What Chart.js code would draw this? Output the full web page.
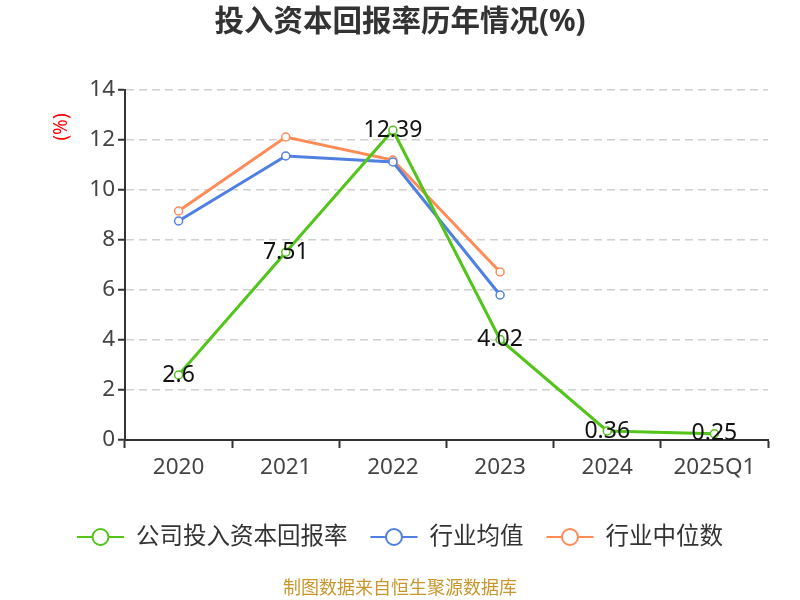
<!DOCTYPE html>
<html>
<head>
<meta charset="utf-8">
<script src="https://cdn.jsdelivr.net/npm/chart.js@4/dist/chart.umd.min.js"></script>
<style>
  html, body { margin: 0; padding: 0; background: #fff; }
  #wrap { width: 800px; height: 600px; }
</style>
</head>
<body>
<div id="wrap"><canvas id="chartCanvas" width="800" height="600"></canvas></div>
<script>
const categories = ["2020", "2021", "2022", "2023", "2024", "2025Q1"];
const companyRoic = [2.6, 7.51, 12.39, 4.02, 0.36, 0.25];
const industryMean = [8.76, 11.36, 11.12, 5.8, null, null];
const industryMedian = [9.16, 12.12, 11.2, 6.72, null, null];
const yTicks = [0, 2, 4, 6, 8, 10, 12, 14];

const FONT = "'Noto Sans', 'Noto Sans CJK SC', sans-serif";
const GREEN = "#52c41a";
const BLUE = "#4f80e1";
const ORANGE = "#ff8b57";

// title, unit, point labels, legend and footer
const decorPlugin = {
    id: "decor",
    afterDatasetsDraw(chart) {
        const ctx = chart.ctx;
        ctx.save();

        // value labels on the company line
        const meta = chart.getDatasetMeta(0);
        ctx.font = "23px " + FONT;
        ctx.fillStyle = "#111";
        ctx.textAlign = "center";
        ctx.textBaseline = "middle";
        meta.data.forEach((pt, i) => {
            ctx.fillText(String(companyRoic[i]), pt.x, pt.y);
        });

        // title
        ctx.font = "bold 29.5px " + FONT;
        ctx.fillStyle = "#333";
        ctx.fillText("投入资本回报率历年情况(%)", 400, 23);

        // unit
        ctx.save();
        ctx.translate(62, 127);
        ctx.rotate(-Math.PI / 2);
        ctx.font = "19px " + FONT;
        ctx.fillStyle = "#ff0000";
        ctx.fillText("(%)", 0, 0);
        ctx.restore();

        // legend
        const items = [
            { label: "公司投入资本回报率", color: GREEN },
            { label: "行业均值", color: BLUE },
            { label: "行业中位数", color: ORANGE }
        ];
        ctx.font = "23.5px " + FONT;
        const symW = 47, gapTxt = 12, gapItem = 23;
        let total = 0;
        items.forEach((it, i) => {
            it.w = symW + gapTxt + ctx.measureText(it.label).width;
            total += it.w + (i ? gapItem : 0);
        });
        let x = 400 - total / 2;
        const ly = 537;
        items.forEach(it => {
            ctx.strokeStyle = it.color;
            ctx.lineWidth = 2;
            ctx.beginPath();
            ctx.moveTo(x, ly);
            ctx.lineTo(x + symW, ly);
            ctx.stroke();
            ctx.beginPath();
            ctx.arc(x + symW / 2, ly, 8, 0, Math.PI * 2);
            ctx.fillStyle = "#fff";
            ctx.fill();
            ctx.stroke();
            ctx.fillStyle = "#333";
            ctx.textAlign = "left";
            ctx.fillText(it.label, x + symW + gapTxt, ly);
            x += it.w + gapItem;
        });

        // footer
        ctx.textAlign = "center";
        ctx.font = "18px " + FONT;
        ctx.fillStyle = "#c8962b";
        ctx.fillText("制图数据来自恒生聚源数据库", 400, 589);

        ctx.restore();
    }
};

function lineSet(label, data, color) {
    return {
        label: label,
        data: data,
        borderColor: color,
        backgroundColor: "#fff",
        pointBorderColor: color,
        pointBackgroundColor: "#fff",
        borderWidth: 3,
        pointRadius: 4,
        pointBorderWidth: 1.5,
        tension: 0,
        spanGaps: false
    };
}

const ctx1 = document.getElementById("chartCanvas").getContext("2d");
new Chart(ctx1, {
    type: "line",
    data: {
        labels: categories,
        datasets: [
            lineSet("公司投入资本回报率", companyRoic, GREEN),
            lineSet("行业均值", industryMean, BLUE),
            lineSet("行业中位数", industryMedian, ORANGE)
        ]
    },
    options: {
        responsive: false,
        animation: false,
        layout: { padding: { left: 0, right: 32, top: 90, bottom: 120 } },
        plugins: {
            legend: { display: false },
            tooltip: { enabled: false }
        },
        scales: {
            x: {
                offset: true,
                afterFit: s => { s.height = 40; },
                border: { display: true, color: "#333", width: 2 },
                grid: {
                    display: true,
                    offset: true,
                    drawOnChartArea: false,
                    drawTicks: true,
                    tickLength: 8,
                    tickColor: "#333",
                    tickWidth: 2
                },
                ticks: { color: "#444", font: { size: 22.5, family: FONT }, padding: 6 }
            },
            y: {
                min: 0,
                max: 14,
                afterFit: s => { s.width = 125; },
                afterBuildTicks: s => { s.ticks = yTicks.map(v => ({ value: v })); },
                border: { display: true, color: "#333", width: 2, dash: [8, 5] },
                grid: {
                    color: "#d0d0d0",
                    lineWidth: 1.5,
                    drawTicks: true,
                    tickLength: 7,
                    tickColor: "#333",
                    tickWidth: 2,
                    tickBorderDash: []
                },
                ticks: { color: "#444", font: { size: 22.5, family: FONT }, padding: 3 }
            }
        }
    },
    plugins: [decorPlugin]
});
</script>
</body>
</html>
